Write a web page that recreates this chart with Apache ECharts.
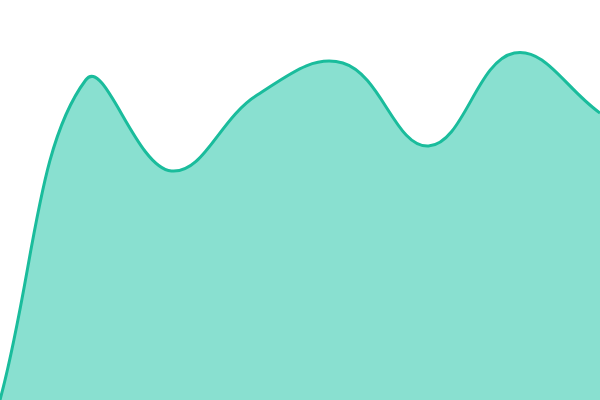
<!DOCTYPE html>
<html><head><meta charset="utf-8">
<script src="https://cdn.jsdelivr.net/npm/echarts@6/dist/echarts.min.js"></script>
<style>html,body{margin:0;padding:0;background:#fff}#c{width:600px;height:400px}</style>
</head><body><div id="c"></div>
<script>
var categories = ['1','2','3','4','5','6','7','8'];
var values = [0, 320, 229, 305, 337, 254, 347, 287];
var TENSION = 0.4;

function splineCurve(p0, p1, p2, t) {
  var d01 = Math.hypot(p1[0]-p0[0], p1[1]-p0[1]);
  var d12 = Math.hypot(p2[0]-p1[0], p2[1]-p1[1]);
  var s01 = d01/(d01+d12), s12 = d12/(d01+d12);
  if (isNaN(s01)) s01 = 0; if (isNaN(s12)) s12 = 0;
  var fa = t*s01, fb = t*s12;
  return {
    prev: [p1[0]-fa*(p2[0]-p0[0]), p1[1]-fa*(p2[1]-p0[1])],
    next: [p1[0]+fb*(p2[0]-p0[0]), p1[1]+fb*(p2[1]-p0[1])]
  };
}

function renderItem(params, api) {
  if (params.dataIndex !== 0) return null;
  var cs = params.coordSys;
  var pts = values.map(function (v, i) { return api.coord([i, v]); });
  var n = pts.length, ctrl = [];
  function cap(p) {
    return [Math.min(Math.max(p[0], cs.x), cs.x+cs.width), Math.min(Math.max(p[1], cs.y), cs.y+cs.height)];
  }
  for (var i = 0; i < n; i++) {
    var c = splineCurve(pts[Math.max(i-1,0)], pts[i], pts[Math.min(i+1,n-1)], TENSION);
    ctrl.push({prev: cap(c.prev), next: cap(c.next)});
  }
  var d = 'M' + pts[0][0] + ' ' + pts[0][1];
  for (var j = 1; j < n; j++) {
    var a = ctrl[j-1].next, b = ctrl[j].prev;
    d += ' C' + a[0] + ' ' + a[1] + ' ' + b[0] + ' ' + b[1] + ' ' + pts[j][0] + ' ' + pts[j][1];
  }
  var base = api.coord([0, 0])[1];
  var area = d + ' L' + pts[n-1][0] + ' ' + base + ' L' + pts[0][0] + ' ' + base + ' Z';
  return {
    type: 'group',
    children: [
      {type: 'path', shape: {pathData: area}, style: {fill: '#89e0d0', stroke: null}},
      {type: 'path', shape: {pathData: d}, style: {fill: null, stroke: '#1abc9c', lineWidth: 3}}
    ]
  };
}

var chart = echarts.init(document.getElementById('c'));
chart.setOption({
  animation: false,
  grid: {left: 0, right: 0, top: 0, bottom: 0},
  xAxis: {type: 'category', data: categories, boundaryGap: false, show: false},
  yAxis: {type: 'value', min: 0, max: 400, show: false},
  series: [{
    type: 'custom', clip: true, renderItem: renderItem,
    data: values.map(function (v, i) { return [i, v]; })
  }]
});
</script></body></html>
